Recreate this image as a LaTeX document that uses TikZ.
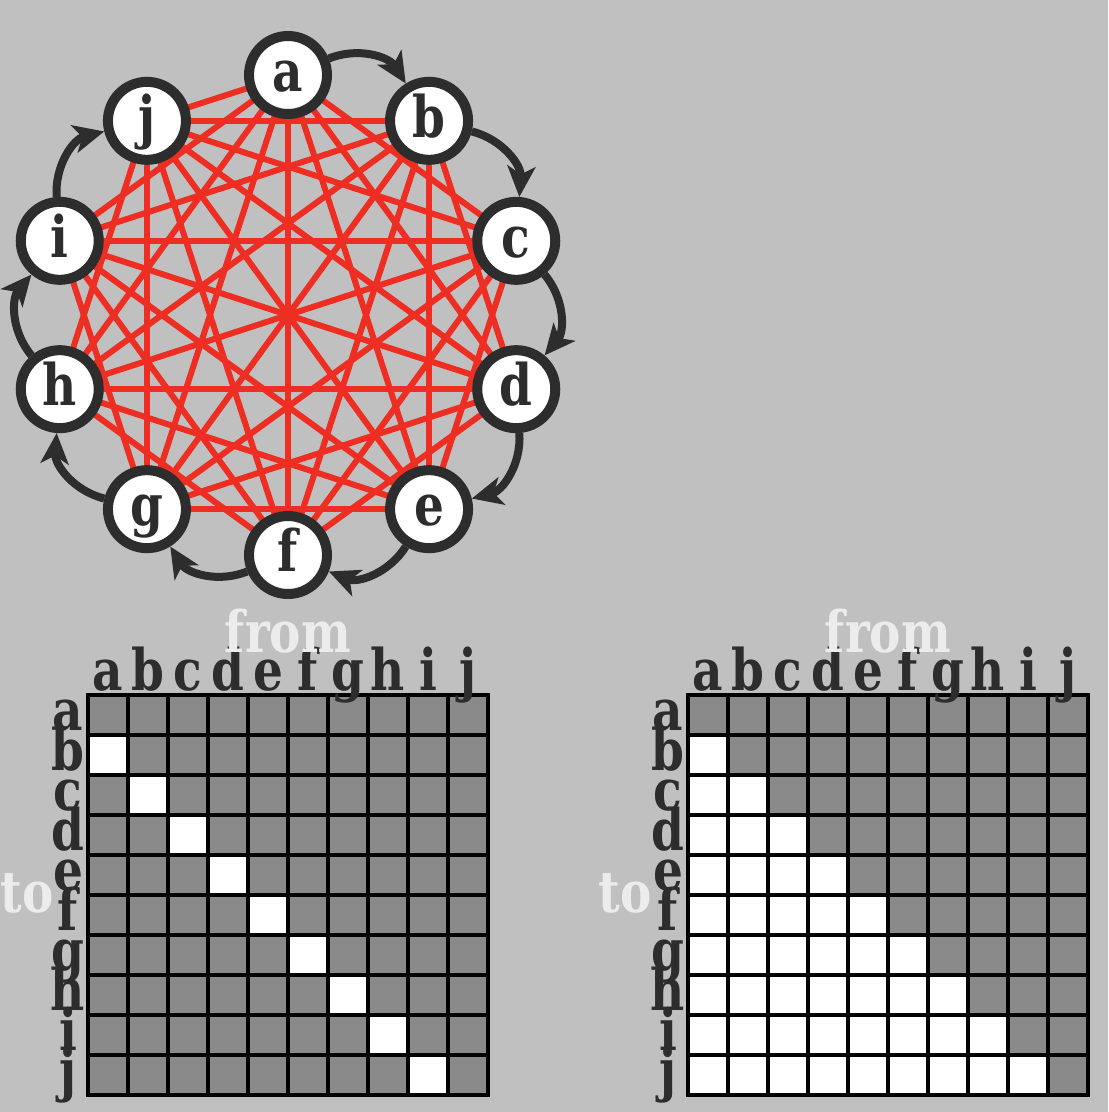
\documentclass[tikz,border=0pt]{standalone}
\usepackage{fontspec}
\setmainfont{DejaVu Serif}[FakeStretch=0.82]
\usetikzlibrary{arrows.meta}
\definecolor{bgc}{RGB}{192,192,192}
\definecolor{ink}{RGB}{45,45,45}
\definecolor{redl}{RGB}{238,46,34}
\definecolor{cellg}{RGB}{138,138,138}
\definecolor{lbl}{RGB}{236,236,236}
\pgfdeclarelayer{bg}
\pgfsetlayers{bg,main}
\newcommand\bigfont{\fontsize{43}{43}\bfseries\selectfont}
\begin{document}
\begin{tikzpicture}[x=0.75pt,y=-0.75pt,
  vert/.style={circle,draw=ink,line width=7.5pt,fill=white,minimum size=58.5pt,inner sep=0pt,
    text=ink,font=\bigfont,text height=25pt,text depth=0pt},
  redge/.style={draw=redl,line width=4.5pt},
  arr/.style={draw=ink,line width=6pt,-{Stealth[length=23pt,width=21pt,inset=6pt]}},
  lab/.style={text=ink,font=\bigfont,inner sep=0pt,anchor=base},
  axis/.style={text=lbl,font=\bigfont,inner sep=0pt,anchor=base},
  gridl/.style={draw=black,line width=2.8pt},
  cellw/.style={fill=white}]
\useasboundingbox (0,0) rectangle (1108,1112);
\begin{pgfonlayer}{bg}
\fill[bgc] (0,0) rectangle (1108,1112);
\end{pgfonlayer}
% vertices
\foreach \n [count=\i from 0] in {a,b,c,d,e,f,g,h,i,j}
  \node[vert,alias=n\i] (\n) at ({288+240*cos(90-36*\i)},{315-240*sin(90-36*\i)}) {\n};
% red edges
\begin{pgfonlayer}{bg}
\foreach \i in {0,...,9}{
  \foreach \j in {0,...,9}{
    \ifnum\j>\numexpr\i+1\relax
      \draw[redge] (n\i.center) -- (n\j.center);
    \fi
  }
}
\end{pgfonlayer}
% black arrows
\foreach \i in {0,...,8}{
  \pgfmathtruncatemacro\k{\i+1}
  \draw[arr] (n\i) to[bend left=40] (n\k);
}
% matrices
\foreach \ox/\mode in {88/0,688/1}{
  \fill[cellg] (\ox,695) rectangle ({\ox+400},1095);
  \foreach \r in {1,...,9}{
    \foreach \c in {0,...,8}{
      \ifnum\mode=0
        \ifnum\r=\numexpr\c+1\relax
          \fill[cellw] ({\ox+40*\c},{695+40*\r}) rectangle +(40,40);
        \fi
      \else
        \ifnum\r>\c
          \fill[cellw] ({\ox+40*\c},{695+40*\r}) rectangle +(40,40);
        \fi
      \fi
    }
  }
  \foreach \k in {1,...,9}{
    \draw[gridl] ({\ox+40*\k},695) -- ({\ox+40*\k},1095);
    \draw[gridl] (\ox,{695+40*\k}) -- ({\ox+400},{695+40*\k});
  }
  \draw[gridl] (\ox,695) rectangle ({\ox+400},1095);
}
% labels
\foreach \n [count=\i from 0] in {a,b,c,d,e,f,g,h,i,j}{
  \node[lab] (cl\i) at ({108+40*\i},690) {\n};
  \node[lab] (rl\i) at (68,{730+40*\i}) {\n};
  \node[lab] (cr\i) at ({708+40*\i},690) {\n};
  \node[lab] (rr\i) at (668,{730+40*\i}) {\n};
}
\node[axis] (fromL) at (288,652) {from};
\node[axis] (fromR) at (888,652) {from};
\node[axis,anchor=base east] (toL) at (54,912) {to};
\node[axis,anchor=base east] (toR) at (652,912) {to};
\end{tikzpicture}
\end{document}
